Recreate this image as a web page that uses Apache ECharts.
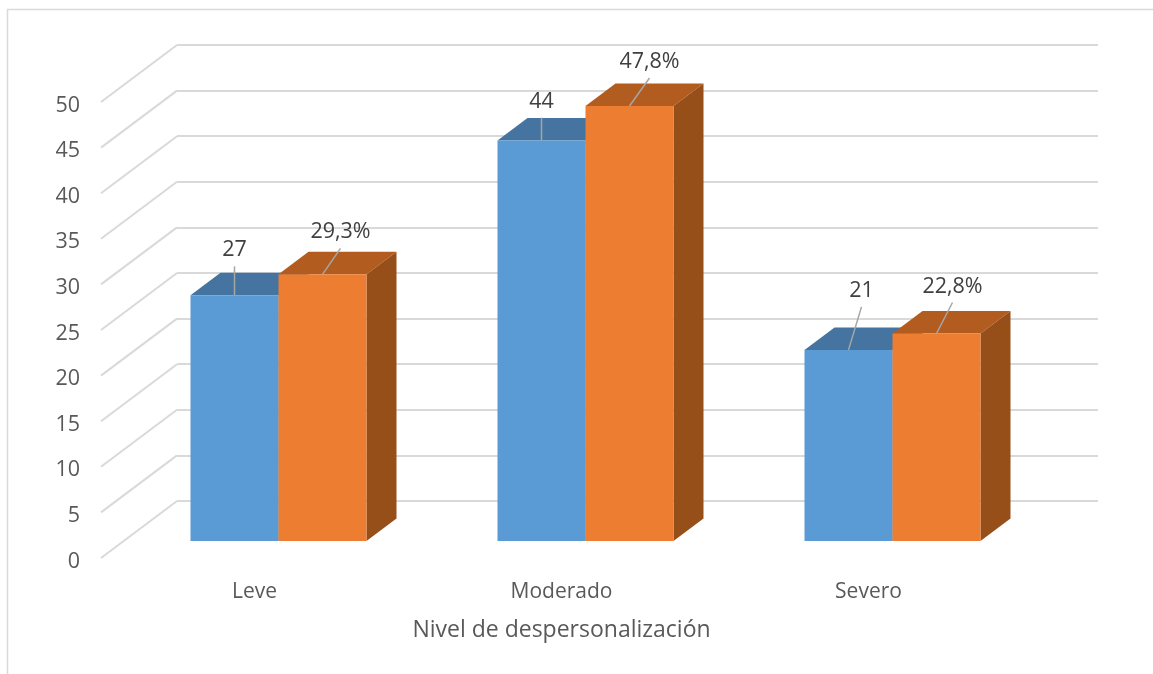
<!DOCTYPE html>
<html>
<head>
<meta charset="utf-8">
<style>html,body{margin:0;padding:0;background:#fff}#c{width:1153px;height:674px}</style>
<script src="https://cdn.jsdelivr.net/npm/echarts@6/dist/echarts.min.js"></script>
</head>
<body>
<div id="c"></div>
<script>
const categories = ['Leve', 'Moderado', 'Severo'];
const counts = [27, 44, 21];
const percents = [29.3, 47.8, 22.8];
const yTicks = [0, 5, 10, 15, 20, 25, 30, 35, 40, 45, 50];
const axisTitle = 'Nivel de despersonalización';

const FONT = '"Open Sans", sans-serif';
const wallDepth = [76, -57];
const labelDrop = 3.5;
const barDepth = [30, -22.5];
const barWidth = 88;
const countLeader = [[0, -29], [0, -23], [13, -43]];
const percentLeader = [[18, -26], [20, -28], [16, -31]];
const axisCommon = { axisLine: { show: false }, axisTick: { show: false } };

function bars3d(values, side, colors, leaders, fmt) {
  return {
    type: 'custom', xAxisIndex: 2, yAxisIndex: 2, clip: false, silent: true,
    encode: { x: 0, y: 1 },
    data: values.map((v, i) => [i, v]),
    renderItem(params, api) {
      const i = api.value(0), v = api.value(1);
      const top = api.coord([i, v]), base = api.coord([i, 0]);
      const x0 = side < 0 ? top[0] - barWidth : top[0], x1 = x0 + barWidth;
      const [dx, dy] = barDepth;
      const cx = (x0 + x1) / 2;
      const lead = leaders[i];
      const end = [cx + lead[0], top[1] + lead[1]];
      return { type: 'group', children: [
        { type: 'polygon', shape: { points: [[x0, top[1]], [x0 + dx, top[1] + dy], [x1 + dx, top[1] + dy], [x1, top[1]]] }, style: { fill: colors[1] } },
        { type: 'polygon', shape: { points: [[x1, top[1]], [x1 + dx, top[1] + dy], [x1 + dx, base[1] + dy], [x1, base[1]]] }, style: { fill: colors[2] } },
        { type: 'rect', shape: { x: x0, y: top[1], width: barWidth, height: base[1] - top[1] }, style: { fill: colors[0] } },
        { type: 'line', shape: { x1: cx, y1: top[1], x2: end[0], y2: end[1] }, style: { stroke: '#a6a6a6', lineWidth: 1.5 } },
        { type: 'text', x: end[0], y: end[1] - 5, style: { text: fmt(v), fill: '#404040', font: '21.5px ' + FONT, align: 'center', verticalAlign: 'bottom' } }
      ] };
    }
  };
}

const chart = echarts.init(document.getElementById('c'), null, { renderer: 'canvas' });
chart.setOption({
  animation: false,
  backgroundColor: '#fff',
  grid: [
    { left: 101, top: 102 + labelDrop, width: 921, height: 456 },
    { left: 177, top: 45, width: 921, height: 456 },
    { left: 125, top: 86, width: 921, height: 455 }
  ],
  xAxis: [
    { gridIndex: 0, type: 'category', data: categories, ...axisCommon,
      axisLabel: { color: '#595959', fontSize: 21, fontFamily: FONT, margin: 24 - labelDrop },
      name: axisTitle, nameLocation: 'middle', nameGap: 61 - labelDrop,
      nameTextStyle: { color: '#595959', fontSize: 23, fontFamily: FONT } },
    { gridIndex: 1, type: 'category', data: categories, ...axisCommon, axisLabel: { show: false } },
    { gridIndex: 2, type: 'category', data: categories, ...axisCommon, axisLabel: { show: false } }
  ],
  yAxis: [
    { gridIndex: 0, type: 'value', min: 0, max: 50, interval: 5, ...axisCommon, splitLine: { show: false },
      axisLabel: { color: '#595959', fontSize: 21.5, fontFamily: FONT, margin: 21 } },
    { gridIndex: 1, type: 'value', min: 0, max: 50, interval: 5, ...axisCommon, axisLabel: { show: false },
      splitLine: { show: true, lineStyle: { color: '#d9d9d9', width: 2 } } },
    { gridIndex: 2, type: 'value', min: 0, max: 50, interval: 5, ...axisCommon, axisLabel: { show: false }, splitLine: { show: false } }
  ],
  graphic: [{
    type: 'polyline', silent: true, z: -1,
    shape: { points: [[7.5, 674], [7.5, 9.5], [1153, 9.5]] },
    style: { stroke: '#d9d9d9', lineWidth: 1.5, fill: null }
  }],
  series: [
    {
      type: 'custom', xAxisIndex: 0, yAxisIndex: 0, clip: false, silent: true,
      encode: { y: 1 },
      data: yTicks.map(t => [0, t]),
      renderItem(params, api) {
        const y = api.coord([0, api.value(1)])[1] - labelDrop;
        const x = params.coordSys.x;
        return { type: 'line', shape: { x1: x, y1: y, x2: x + wallDepth[0], y2: y + wallDepth[1] },
          style: { stroke: '#d9d9d9', lineWidth: 2 } };
      }
    },
    bars3d(counts, -1, ['#5b9bd5', '#4674a0', '#4674a0'], countLeader, v => String(v)),
    bars3d(percents, 1, ['#ed7d31', '#b25c20', '#974f1a'], percentLeader, v => String(v).replace('.', ',') + '%')
  ]
});
</script>
</body>
</html>
